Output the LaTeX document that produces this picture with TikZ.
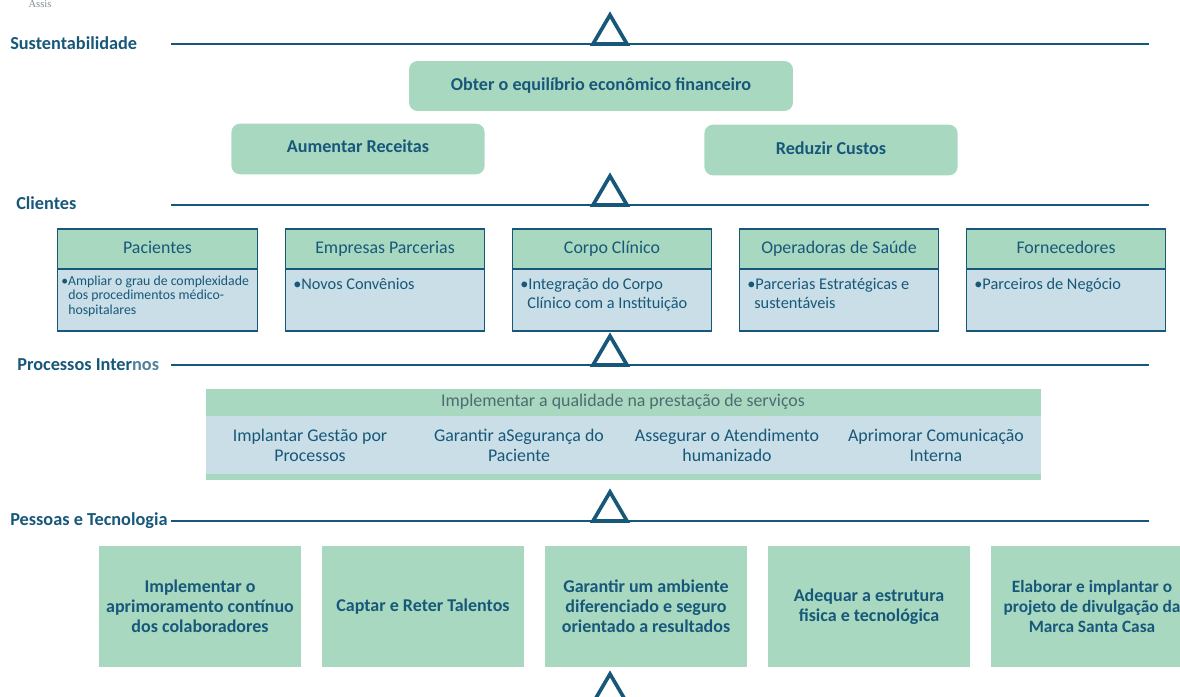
\documentclass[tikz,border=0pt]{standalone}
\usepackage{fontspec}
\setmainfont{Carlito}
\newfontfamily\logofont{Liberation Serif}
\usetikzlibrary{positioning}
\definecolor{tealdark}{HTML}{17587A}
\definecolor{boxgreen}{HTML}{A9D8C1}
\definecolor{boxblue}{HTML}{C9DEE6}
\definecolor{textgrey}{HTML}{4F6B70}
\newcommand{\goaltext}[2][2pt]{\raisebox{#1}{#2}}
\tikzset{
	level/.style={font=\fontsize{13}{15}\selectfont\bfseries, text=tealdark, anchor=west, inner sep=0},
	rule/.style={draw=tealdark, line width=1.6pt},
	peak/.style={draw=tealdark, line width=2.6pt, line join=miter},
	goal/.style={fill=boxgreen, rounded corners=6pt, font=\fontsize{12.9}{15}\selectfont\bfseries, text=tealdark},
	head/.style={draw=tealdark, fill=boxgreen, line width=0.8pt, font=\fontsize{12.7}{14}\selectfont, text=tealdark, text height=9pt, text depth=2.5pt, minimum width=199.5pt*0.711, minimum height=40pt*0.711},
	body/.style={draw=tealdark, fill=boxblue, line width=0.8pt, text=tealdark, minimum width=199.5pt*0.711, minimum height=62pt*0.711},
	bullet/.style={text=tealdark, font=\fontsize{11.6}{13.5}\selectfont, align=left, anchor=north west, inner sep=0},
	cell/.style={font=\fontsize{12.7}{14.3}\selectfont, text=tealdark, align=center},
	pillar/.style={fill=boxgreen, font=\fontsize{12.8}{14.2}\selectfont\bfseries, text=tealdark, align=center, minimum width=203pt*0.711, minimum height=121pt*0.711},
}
\begin{document}
\begin{tikzpicture}[x=0.025cm,y=-0.025cm]
	\clip (0,0) rectangle (1180,697);

	% cut-off bits at the top
	\node[font=\logofont\fontsize{7.5}{8}\selectfont, text=textgrey!75] (assis) at (40,4) {Assis};

	% level rules
	\node[level] (sust) at (10,43) {Sustentabilidade};
	\node[level] (clie) at (16,203) {Clientes};
	\node[level] (proc) at (17,365) {Processos Inter\textcolor{tealdark!75}{nos}};
	\node[level] (pess) at (10,521) {Pessoas e Tecnologia};
	\foreach \y in {44,205,365,521} {
		\draw[rule] (171,\y) -- (1149,\y);
	}
	\foreach \y in {44,205,365,521,703} {
		\draw[peak] (610,\y-29) -- (593,\y) -- (627,\y) -- cycle;
	}

	% sustentabilidade
	\node[goal, minimum width=273pt, minimum height=35.5pt] (equilibrio) at (601,86) {\goaltext{Obter o equilíbrio econômico financeiro}};
	\node[goal, minimum width=180pt, minimum height=36pt] (receitas) at (358,149) {\goaltext[3.5pt]{Aumentar Receitas}};
	\node[goal, minimum width=180pt, minimum height=36pt] (custos) at (831,150) {\goaltext[2.7pt]{Reduzir Custos}};

	% clientes
	\foreach \x/\n/\t in {157.5/a/Pacientes,385/b/Empresas Parcerias,612/c/Corpo Clínico,839/d/Operadoras de Saúde,1066/e/Fornecedores} {
		\node[body] (body\n) at (\x,300) {};
		\node[head] (head\n) at (\x,249) {\t};
	}
	\node[bullet, font=\fontsize{9.8}{10.3}\selectfont] (textA) at (61,275.5) {•Ampliar o grau de complexidade\\\hspace*{5pt}dos procedimentos médico-\\\hspace*{5pt}hospitalares};
	\node[bullet] (textB) at (293,278) {•Novos Convênios};
	\node[bullet] (textC) at (520,278) {•Integração do Corpo\\\hspace*{5pt}Clínico com a Instituição};
	\node[bullet] (textD) at (747,278) {•Parcerias Estratégicas e\\\hspace*{5pt}sustentáveis};
	\node[bullet] (textE) at (974,278) {•Parceiros de Negócio};

	% processos internos
	\fill[boxgreen] (206,389) rectangle (1041,480);
	\fill[boxblue] (206,416) rectangle (1041,474);
	\node[cell, text=textgrey] (qualidade) at (623,402) {Implementar a qualidade na prestação de serviços};
	\node[cell] (gestao) at (310,445) {Implantar Gestão por\\Processos};
	\node[cell] (seguranca) at (519,445) {Garantir aSegurança do\\Paciente};
	\node[cell] (atendimento) at (727,445) {Assegurar o Atendimento\\humanizado};
	\node[cell] (comunicacao) at (936,445) {Aprimorar Comunicação\\Interna};

	% pessoas e tecnologia
	\node[pillar] (pilA) at (200,606.5) {Implementar o\\aprimoramento contínuo\\dos colaboradores};
	\node[pillar] (pilB) at (423,606.5) {Captar e Reter Talentos};
	\node[pillar] (pilC) at (646,606.5) {Garantir um ambiente\\diferenciado e seguro\\orientado a resultados};
	\node[pillar] (pilD) at (869,606.5) {Adequar a estrutura\\fisica e tecnológica};
	\node[pillar, font=\fontsize{12.3}{14.2}\selectfont\bfseries] (pilE) at (1092,606.5) {Elaborar e implantar o\\projeto de divulgação da\\Marca Santa Casa};
\end{tikzpicture}
\end{document}
